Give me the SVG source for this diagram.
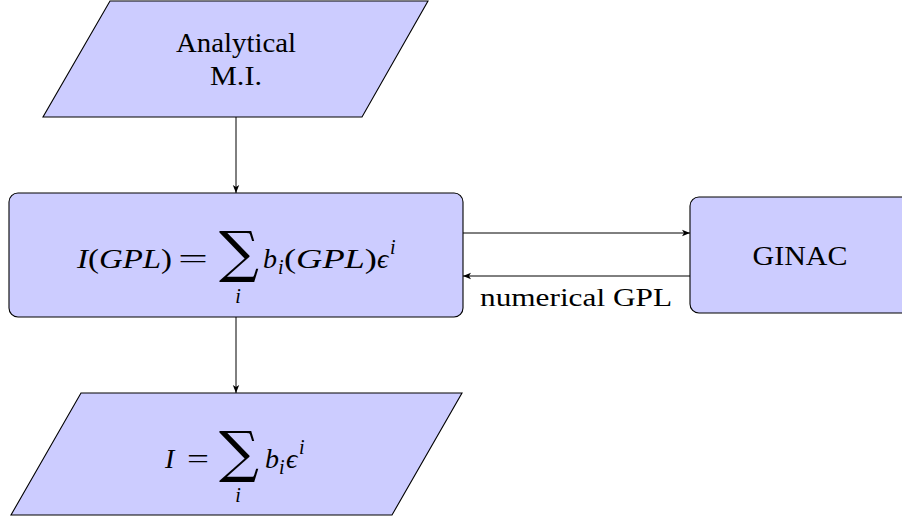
<svg xmlns="http://www.w3.org/2000/svg" width="902" height="519" viewBox="0 0 902 519">
<defs>
<style>
.node{fill:#ccccff;stroke:#000;stroke-width:1.1}
text{fill:#000}
.m{font-style:italic}
.sum{font-family:'DejaVu Serif',serif}
.edge{stroke:#000;stroke-width:1;fill:none;marker-end:url(#ah)}
</style>
<marker id="ah" viewBox="0 0 10 10" refX="10" refY="5" markerWidth="8" markerHeight="8" markerUnits="userSpaceOnUse" orient="auto">
<path d="M0,1 L10,5 L0,9 L2.5,5 Z" fill="#000"/>
</marker>
</defs>
<rect width="902" height="519" fill="#fff"/>
<g font-family="'Liberation Serif', 'DejaVu Serif', 'Times New Roman', serif">
<g id="connectors">
<line class="edge" x1="236" y1="117" x2="236" y2="193"/>
<line class="edge" x1="236" y1="317" x2="236" y2="393"/>
<line class="edge" x1="463" y1="233" x2="690" y2="233"/>
<line class="edge" x1="690" y1="276" x2="463" y2="276"/>
<text x="576" y="306" font-size="26" text-anchor="middle" textLength="192" lengthAdjust="spacingAndGlyphs">numerical GPL</text>
</g>
<g id="analytical">
<polygon class="node" points="110,1 428,1 362,117 43,117"/>
<text x="236" y="52" font-size="28" text-anchor="middle" textLength="120" lengthAdjust="spacingAndGlyphs">Analytical</text>
<text x="236" y="85" font-size="28" text-anchor="middle" textLength="52" lengthAdjust="spacingAndGlyphs">M.I.</text>
</g>
<g id="formula">
<rect class="node" x="9" y="193" width="454" height="124" rx="9"/>
<text class="m" x="77" y="268" font-size="28" textLength="95" lengthAdjust="spacingAndGlyphs">I<tspan font-style="normal">(</tspan>GPL<tspan font-style="normal">)</tspan></text>
<text x="193" y="268" font-size="28" text-anchor="middle" textLength="30" lengthAdjust="spacingAndGlyphs">=</text>
<text class="sum" x="239" y="271" font-size="56" text-anchor="middle">∑</text>
<text class="m" x="238" y="303" font-size="20" text-anchor="middle">i</text>
<text class="m" x="263" y="268" font-size="28">b</text>
<text class="m" x="278" y="274" font-size="20">i</text>
<text class="m" x="284" y="268" font-size="28" textLength="93" lengthAdjust="spacingAndGlyphs"><tspan font-style="normal">(</tspan>GPL<tspan font-style="normal">)</tspan></text>
<text class="m" x="377" y="268" font-size="28">ϵ</text>
<text class="m" x="390" y="254" font-size="20">i</text>
</g>
<g id="ginac">
<rect class="node" x="690" y="197" width="230" height="116" rx="9"/>
<text x="800" y="265" font-size="28" text-anchor="middle" textLength="95" lengthAdjust="spacingAndGlyphs">GINAC</text>
</g>
<g id="result">
<polygon class="node" points="81,393 462,393 392,515 11,515"/>
<text class="m" x="165" y="468" font-size="28">I</text>
<text x="198" y="468" font-size="28" text-anchor="middle" textLength="22" lengthAdjust="spacingAndGlyphs">=</text>
<text class="sum" x="239" y="471" font-size="56" text-anchor="middle">∑</text>
<text class="m" x="238" y="502" font-size="20" text-anchor="middle">i</text>
<text class="m" x="265" y="468" font-size="28">b</text>
<text class="m" x="279" y="474" font-size="20">i</text>
<text class="m" x="286" y="468" font-size="28">ϵ</text>
<text class="m" x="299" y="454" font-size="20">i</text>
</g>
</g>
</svg>
